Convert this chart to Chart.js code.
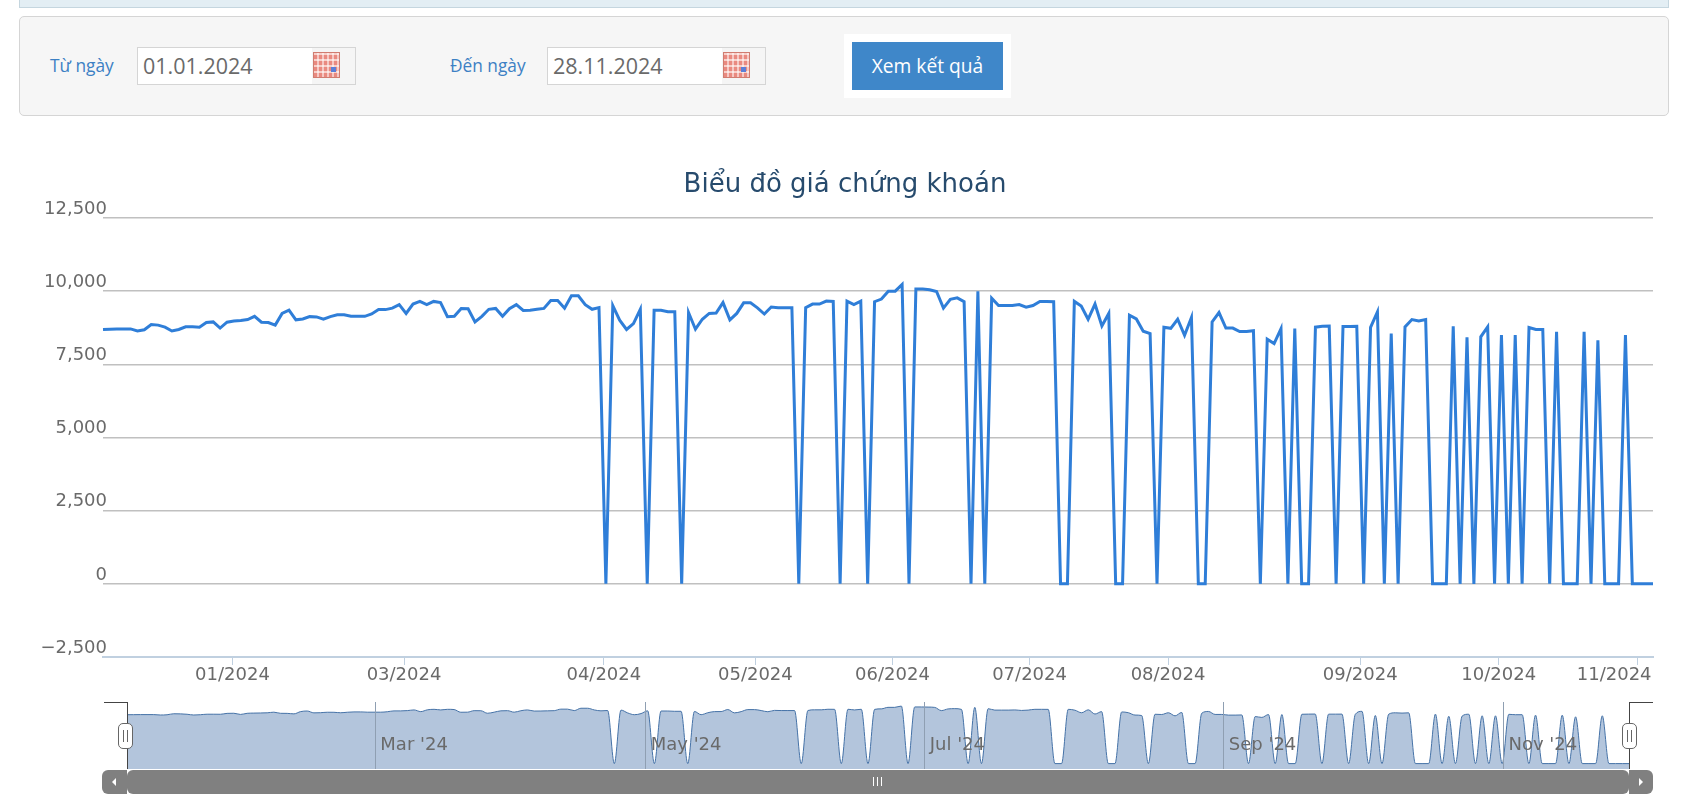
<!DOCTYPE html>
<html><head><meta charset="utf-8">
<style>
html,body{margin:0;padding:0;background:#fff;overflow:hidden;width:1694px;height:812px;font-family:"Open Sans",sans-serif}
.abs{position:absolute;box-sizing:border-box}
#strip{left:19px;top:-4px;width:1650px;height:12px;background:#e3eef4;border:1px solid #c5d6df}
#panel{left:19px;top:16px;width:1650px;height:100px;background:#f6f6f6;border:1px solid #d5d5d5;border-radius:5px}
.lbl{color:#3c80c4;font-size:17.3px;top:54px;white-space:nowrap}
.inp{top:47px;width:219px;height:38px;background:#fff;border:1px solid #d5d5d5;color:#6a6a6a;font-size:21.5px;line-height:36px;padding-left:5px}
.inp i{position:absolute;right:0;top:0;bottom:0;width:43px;background:#f5f5f5}
.cal{position:absolute;left:175px;top:4px;width:27px;height:26px;background:repeating-linear-gradient(90deg,#fff0 0 3px,#fff8 3px 5px),repeating-linear-gradient(0deg,#e98a80 0 4px,#f7cfc9 4px 6px);border:1px solid #d07c70;box-sizing:border-box}
.cal b{position:absolute;right:3px;bottom:5px;width:5px;height:5px;background:#5b7fd8}
#halo{left:844px;top:34px;width:167px;height:64px;background:#fff}
#btn{left:852px;top:42px;width:151px;height:48px;background:#3f87c9;color:#fff;font-size:19.2px;text-align:center;line-height:48px}
#main{left:0;top:0}
#nav{left:0;top:0}
.scroll{background:#808080}
.hd{width:15px;height:26px;background:#fff;border:1px solid #666;border-radius:5px;top:723px}
.hd:after{content:"";position:absolute;left:4px;top:6px;width:3px;height:12px;border-left:1px solid #666;border-right:1px solid #666}
</style></head><body>
<div class="abs" id="strip"></div>
<div class="abs" id="panel"></div>
<div class="abs lbl" style="left:50px">Từ ngày</div>
<div class="abs inp" style="left:137px">01.01.2024<i></i><span class="cal"><b></b></span></div>
<div class="abs lbl" style="left:450px">Đến ngày</div>
<div class="abs inp" style="left:547px">28.11.2024<i></i><span class="cal"><b></b></span></div>
<div class="abs" id="halo"></div>
<div class="abs" id="btn">Xem kết quả</div>
<canvas class="abs" id="main" width="1694" height="812"></canvas>
<canvas class="abs" id="nav" width="1694" height="812"></canvas>
<div class="abs" style="left:104px;top:702px;width:24px;height:1px;background:#444"></div>
<div class="abs" style="left:127px;top:702px;width:1px;height:67px;background:#444"></div>
<div class="abs" style="left:1629px;top:702px;width:1px;height:67px;background:#444"></div>
<div class="abs" style="left:1629px;top:702px;width:24px;height:1px;background:#444"></div>
<div class="abs hd" style="left:118px"></div>
<div class="abs hd" style="left:1622px"></div>
<div class="abs scroll" style="left:102px;top:770px;width:25px;height:24px;border-radius:6px 0 0 6px"></div>
<div class="abs scroll" style="left:127px;top:770px;width:1502px;height:24px;border-radius:6px"></div>
<div class="abs scroll" style="left:1629px;top:770px;width:24px;height:24px;border-radius:0 6px 6px 0"></div>
<div class="abs" style="left:112px;top:778px;border:4px solid transparent;border-right:4px solid #fff;border-left:0"></div>
<div class="abs" style="left:1639px;top:778px;border:4px solid transparent;border-left:4px solid #fff;border-right:0"></div>
<div class="abs" style="left:873px;top:777px;width:9px;height:9px;border-left:1px solid #fff;border-right:1px solid #fff"></div>
<div class="abs" style="left:877px;top:777px;width:1px;height:9px;background:#fff"></div>
<script src="https://cdn.jsdelivr.net/npm/chart.js@4/dist/chart.umd.min.js"></script>
<script>
const chartTitle = "Biểu đồ giá chứng khoán";
const priceValues = [
8690,8700,8710,8710,8710,8640,8680,8860,8840,8770,
8640,8690,8780,8780,8770,8930,8950,8740,8940,8980,
9000,9030,9140,8940,8930,8840,9240,9350,9020,9050,
9130,9120,9040,9130,9190,9190,9140,9140,9140,9220,
9370,9370,9420,9540,9240,9560,9650,9540,9650,9610,
9130,9140,9410,9400,8950,9140,9380,9410,9140,9400,
9540,9340,9350,9380,9410,9680,9680,9420,9840,9840,
9540,9380,9440,0,9510,9010,8690,8890,9380,0,
9350,9350,9300,9300,0,9270,8700,9040,9240,9250,
9610,9020,9240,9600,9600,9430,9220,9460,9430,9430,
9430,0,9440,9560,9560,9660,9650,0,9660,9540,
9660,0,9640,9730,10000,10000,10230,0,10070,10070,
10050,9990,9420,9720,9770,9640,0,10000,0,9760,
9510,9510,9510,9540,9450,9510,9650,9650,9640,0,
0,9650,9490,9040,9560,8810,9240,0,0,9180,
9050,8630,8550,0,8770,8730,9040,8490,9100,0,
0,8950,9270,8740,8740,8620,8620,8650,0,8360,
8210,8720,0,8720,0,0,8770,8800,8810,0,
8790,8790,8800,0,8760,9290,0,8550,0,8780,
9030,8980,9030,0,0,0,8800,0,8420,0,
8440,8780,0,8500,0,8500,0,8760,8690,8690,
0,8610,0,0,0,8610,0,8320,0,0,
0,8500,0,0,0,0];
const categories = priceValues.map((_, i) => String(i));
const yTickValues = [-2500,0,2500,5000,7500,10000,12500];
const xTickIndex = [18.8,43.7,72.7,94.7,114.6,134.5,154.6,182.5,202.6,222.7];
const xTickLabels = ["01/2024","03/2024","04/2024","05/2024","06/2024","07/2024","08/2024","09/2024","10/2024","11/2024"];
const navTickIndex = [37.2,77.7,119.5,164.3,206.2];
const navTickLabels = ["Mar '24","May '24","Jul '24","Sep '24","Nov '24"];

const FONT = '"DejaVu Sans", sans-serif';
const labelFont = {family: FONT, size: 18};
const lastIndex = priceValues.length - 1;

function filterTicks(indices){
  return scale => { scale.ticks = indices.map(i => ({value: i})); };
}
const shiftLabels = {
  id: 'shiftLabels',
  afterLayout(chart){
    chart.scales.y.getLabelItems().forEach(it => {
      it.options.textAlign = 'right';
      it.options.translation[0] += 4;
      it.options.translation[1] -= 9;
    });
    const items = chart.scales.x.getLabelItems();
    items[items.length - 1].options.translation[0] -= 23;
  }
};
new Chart(document.getElementById('main'), {
  type: 'line',
  plugins: [shiftLabels],
  data: {labels: categories, datasets: [{
    data: priceValues, borderColor: '#2f7ed8', borderWidth: 3, pointRadius: 0, tension: 0,
    borderJoinStyle: 'miter', clip: false
  }]},
  options: {
    responsive: false, animation: false, events: [],
    layout: {padding: {left: 103, right: 41, top: 218, bottom: 0}},
    plugins: {legend: {display: false}, tooltip: {enabled: false}, title: {display: false}},
    scales: {
      x: {
        type: 'linear', min: 0, max: lastIndex,
        afterBuildTicks: filterTicks(xTickIndex),
        afterFit: s => { s.height = 812 - 657; },
        grid: {drawOnChartArea: false, drawTicks: true, tickLength: 8, tickColor: '#c0d0e0', tickWidth: 1},
        border: {color: '#c0d0e0', width: 2},
        ticks: {
          autoSkip: false, maxRotation: 0, minRotation: 0, color: '#6a6a6a', font: labelFont, padding: 0,
          callback: (v, i) => xTickLabels[i]
        }
      },
      y: {
        min: -2500, max: 12500,
        afterBuildTicks: s => { s.ticks = yTickValues.map(v => ({value: v})); },
        afterFit: s => { s.width = 0; },
        grid: {color: '#c0c0c0', lineWidth: 1.5, drawTicks: false},
        border: {display: false},
        ticks: {mirror: true, color: '#6a6a6a', font: labelFont, padding: 0, callback: v => v.toLocaleString('en-US').replace('-', '\u2212')}
      }
    }
  }
});
const titlePlugin = {
  id: 'titleText',
  afterDraw(chart){
    const c = chart.ctx;
    c.save(); c.font = '26px ' + FONT; c.fillStyle = '#274b6d'; c.textAlign = 'center'; c.textBaseline = 'middle';
    c.fillText(chartTitle, 845, 185); c.restore();
  }
};
const navLabels = {
  id: 'navLabels',
  afterLayout(chart){
    chart.scales.x.getLabelItems().forEach(it => {
      it.options.textAlign = 'left';
      it.options.textBaseline = 'middle';
      it.options.translation[0] += 5;
      it.options.translation[1] = 756;
    });
  }
};
new Chart(document.getElementById('nav'), {
  type: 'line',
  plugins: [titlePlugin, navLabels],
  data: {labels: categories, datasets: [{
    data: priceValues, borderColor: '#4572a7', borderWidth: 1, backgroundColor: '#b3c5dc', pointRadius: 0,
    cubicInterpolationMode: 'monotone', fill: 'start'
  }]},
  options: {
    responsive: false, animation: false, events: [],
    layout: {padding: {left: 127, right: 1694-1629, top: 702, bottom: 812-769}},
    plugins: {legend: {display: false}, tooltip: {enabled: false}},
    scales: {
      x: {
        type: 'linear', min: 0, max: lastIndex,
        afterBuildTicks: filterTicks(navTickIndex),
        afterFit: s => { s.height = 0; },
        grid: {color: '#8f9fb2', lineWidth: 1, drawTicks: false, z: 1},
        border: {display: false},
        ticks: {mirror: true, autoSkip: false, maxRotation: 0, color: '#6a6a6a', font: labelFont, padding: 0, z: 2,
          callback: (v, i) => navTickLabels[i]}
      },
      y: {
        display: false, min: -960, max: 10950
      }
    }
  }
});
</script>
</body></html>
